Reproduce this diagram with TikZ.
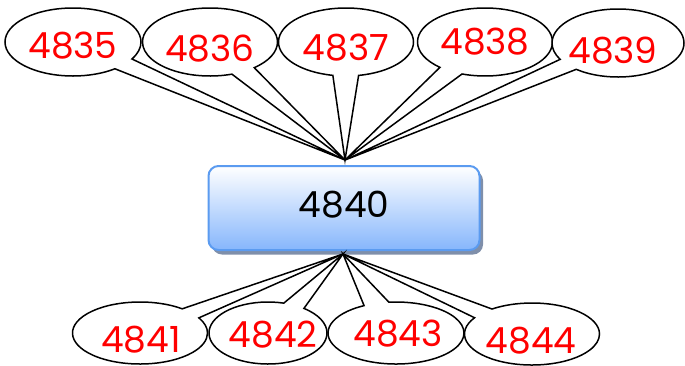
\documentclass[tikz,border=0pt]{standalone}
\usepackage{fontspec}
\setmainfont{Poppins}
\usetikzlibrary{shapes.callouts,shadows}
\definecolor{boxborder}{HTML}{5B9BF0}
\definecolor{boxbot}{HTML}{86B6FC}
\definecolor{boxshadow}{HTML}{7F8FAA}
\newcommand{\lbl}[3]{\makebox[0pt]{\hspace{#1pt}\raisebox{\dimexpr-13pt-#2pt\relax}{#3}}}
\begin{document}
\begin{tikzpicture}[x=1pt,y=-1pt,
  bub/.style={ellipse callout, draw=black, line width=1.5pt, fill=white,
    inner sep=0pt, text height=0pt, text depth=0pt, text=red,
    font=\fontsize{36}{36}\selectfont, callout pointer arc=22,
    minimum width=136pt, minimum height=68pt},
  bubB/.style={bub, minimum height=62pt},
  centerbox/.style={draw=boxborder, line width=2pt, rounded corners=10pt,
    top color=white, bottom color=boxbot, minimum width=271pt, minimum height=84pt,
    inner sep=0pt, text height=0pt, text depth=0pt,
    font=\fontsize{36}{36}\selectfont,
    drop shadow={shadow xshift=3.5pt, shadow yshift=-4.5pt, fill=boxshadow, opacity=1}}]
\useasboundingbox (0,0) rectangle (685,365);
\node[centerbox] (c) at (344,208) {\lbl{0}{-3.5}{4840}};
\coordinate (tipT) at (345,160);
\coordinate (tipB) at (343,254);
\node[bub, callout absolute pointer={(tipT)}] (n4835) at (73,42) {\lbl{0}{3}{4835}};
\node[bub, minimum width=135pt, callout absolute pointer={(tipT)}] (n4836) at (210,42) {\lbl{0}{6}{4836}};
\node[bub, minimum width=135pt, callout absolute pointer={(tipT)}] (n4837) at (346,42) {\lbl{0}{5}{4837}};
\node[bub, minimum width=135pt, callout absolute pointer={(tipT)}] (n4838) at (485,42) {\lbl{0}{-1}{4838}};
\node[bub, minimum width=132pt, callout absolute pointer={(tipT)}] (n4839) at (618,43) {\lbl{-10}{7}{4839}};
\node[bubB, minimum width=135pt, callout absolute pointer={(tipB)}] (n4841) at (140,333) {\lbl{2}{6}{4841}};
\node[bubB, minimum width=118pt, callout absolute pointer={(tipB)}] (n4842) at (268,333) {\lbl{10}{1}{4842}};
\node[bubB, minimum width=136pt, callout absolute pointer={(tipB)}] (n4843) at (396,333) {\lbl{4}{0}{4843}};
\node[bubB, minimum width=135pt, callout absolute pointer={(tipB)}] (n4844) at (532,334) {\lbl{-2}{6}{4844}};
\end{tikzpicture}
\end{document}
